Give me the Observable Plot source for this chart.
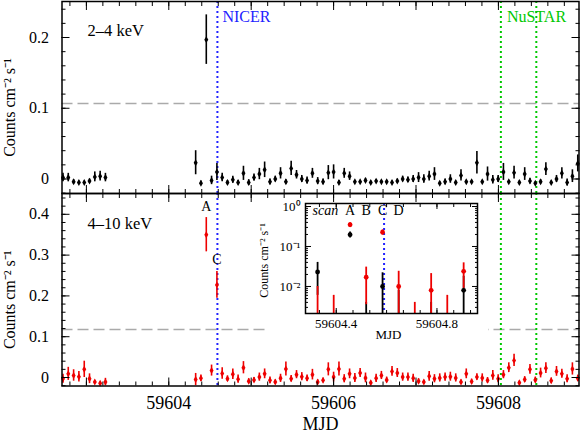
<!DOCTYPE html>
<html><head><meta charset="utf-8">
<script src="https://cdn.jsdelivr.net/npm/d3@7"></script>
<script src="https://cdn.jsdelivr.net/npm/@observablehq/plot@0.6"></script>
<style>
body{margin:0;background:#fff}
#wrap{position:relative;width:581px;height:440px;overflow:hidden;background:#fff}
#wrap svg{position:absolute}
#mask{position:absolute;left:265px;top:202px;width:223px;height:143px;background:#fff}
</style></head><body><div id="wrap"><div id="mask"></div></div>
<script>
// Scan times (MJD)
const times = [59602.716, 59602.780, 59602.845, 59602.909, 59602.974, 59603.038, 59603.102, 59603.167, 59603.231,
59604.326, 59604.390, 59604.455, 59604.519, 59604.584, 59604.648, 59604.712, 59604.777, 59604.841, 59604.906, 59604.970,
59605.034, 59605.099, 59605.163, 59605.228, 59605.292, 59605.356, 59605.421, 59605.485, 59605.550, 59605.614, 59605.678, 59605.743, 59605.807, 59605.872, 59605.936,
59606.000, 59606.065, 59606.129, 59606.194, 59606.258, 59606.322, 59606.387, 59606.451, 59606.516, 59606.580, 59606.644, 59606.709, 59606.773, 59606.838, 59606.902, 59606.966,
59607.031, 59607.095, 59607.160, 59607.224, 59607.288, 59607.353, 59607.417, 59607.482, 59607.546, 59607.610, 59607.675, 59607.739, 59607.804, 59607.868, 59607.932, 59607.997,
59608.061, 59608.126, 59608.190, 59608.254, 59608.319, 59608.383, 59608.448, 59608.512, 59608.576, 59608.641, 59608.705, 59608.770, 59608.834, 59608.898, 59608.963];

// 2-4 keV (black)
const soft = [0.002, 0.002, -0.004, -0.005, -0.005, -0.003, 0.003, 0.004, 0.002,
0.023, -0.006, 0.197, -0.002, 0.010, 0.002, -0.005, -0.001, -0.005, 0.008, -0.005,
0.002, 0.007, 0.013, -0.004, 0.000, 0.008, -0.004, 0.015, 0.006, 0.000, -0.002, 0.008, -0.003, -0.004, 0.009,
0.010, -0.005, 0.008, 0.004, -0.004, -0.004, -0.002, -0.005, -0.003, -0.004, -0.004, -0.005, -0.003, 0.000, -0.001, 0.000,
0.002, 0.000, 0.004, 0.007, -0.006, -0.004, 0.000, -0.005, 0.005, -0.004, -0.004, 0.023, -0.004, 0.007, -0.001, 0.000,
0.010, -0.004, 0.009, -0.005, 0.007, -0.003, -0.006, -0.004, 0.014, -0.005, 0.000, 0.008, -0.005, 0.004, 0.022];
const softErr = [0.006, 0.006, 0.003, 0.002, 0.002, 0.003, 0.007, 0.007, 0.006,
0.017, 0.003, 0.035, 0.006, 0.012, 0.006, 0.003, 0.005, 0.003, 0.010, 0.004,
0.005, 0.008, 0.011, 0.004, 0.004, 0.008, 0.003, 0.010, 0.006, 0.005, 0.005, 0.007, 0.005, 0.004, 0.010,
0.010, 0.003, 0.007, 0.006, 0.002, 0.002, 0.003, 0.002, 0.002, 0.002, 0.002, 0.002, 0.003, 0.004, 0.004, 0.005,
0.007, 0.006, 0.007, 0.009, 0.002, 0.004, 0.006, 0.002, 0.008, 0.002, 0.002, 0.016, 0.002, 0.010, 0.006, 0.005,
0.012, 0.002, 0.009, 0.002, 0.009, 0.004, 0.002, 0.003, 0.009, 0.002, 0.005, 0.008, 0.005, 0.009, 0.012];

// 4-10 keV (red)
const hard = [-0.003, 0.009, 0.005, 0.002, 0.020, -0.003, -0.011, -0.014, -0.011,
-0.005, -0.002, 0.350, 0.017, 0.227, 0.010, -0.003, 0.008, -0.004, 0.024, -0.009,
-0.006, 0.001, 0.009, -0.007, -0.011, -0.002, 0.021, -0.003, 0.007, 0.002, -0.002, 0.007, -0.011, -0.007, 0.020,
0.001, 0.021, -0.003, 0.009, -0.001, 0.011, -0.001, -0.013, -0.002, 0.005, -0.006, 0.015, 0.011, 0.001, 0.001, -0.002,
-0.009, -0.011, 0.003, -0.003, -0.001, 0.001, 0.002, -0.001, -0.011, 0.009, -0.010, 0.001, -0.001, -0.007, 0.005, -0.003,
0.007, 0.024, 0.042, -0.013, -0.005, 0.020, -0.006, 0.011, 0.023, -0.008, 0.015, 0.009, -0.003, 0.021, -0.002];
const hardErr = [0.011, 0.016, 0.014, 0.013, 0.020, 0.012, 0.004, 0.003, 0.009,
0.015, 0.008, 0.042, 0.0135, 0.033, 0.014, 0.007, 0.013, 0.010, 0.015, 0.006,
0.006, 0.010, 0.012, 0.008, 0.005, 0.010, 0.017, 0.008, 0.010, 0.010, 0.008, 0.013, 0.005, 0.006, 0.016,
0.012, 0.017, 0.010, 0.012, 0.011, 0.011, 0.012, 0.004, 0.010, 0.010, 0.007, 0.012, 0.011, 0.010, 0.010, 0.010,
0.006, 0.004, 0.012, 0.010, 0.010, 0.010, 0.011, 0.010, 0.005, 0.012, 0.006, 0.008, 0.010, 0.007, 0.012, 0.010,
0.010, 0.012, 0.015, 0.004, 0.007, 0.012, 0.007, 0.012, 0.013, 0.007, 0.012, 0.011, 0.010, 0.015, 0.008];

const nicerTime = [59604.59];
const nustarTimes = [59608.03, 59608.46];
const softThreshold = [0.1067];
const hardThreshold = [0.1176];
const scanLabels = ["A", "B", "C", "D"];
const scanTimes = [59604.455, 59604.519, 59604.584, 59604.648];
const peakLabels = ["A", "C"];
const peakTimes = [59604.455, 59604.584];
const bandLabels = ["2–4 keV", "4–10 keV"];
const yTitle = "Counts cm⁻² s⁻¹";
const xTitle = "MJD";
const xMajor = [59603, 59604, 59605, 59606, 59607, 59608];
const xLabeled = [59604, 59606, 59608];
const softTicks = [0, 0.1, 0.2];
const hardTicks = [0, 0.1, 0.2, 0.3, 0.4];
const insetXLabeled = [59604.4, 59604.8];
const logTicks = [0.01, 0.1, 1];
const logLabels = ["10⁻²", "10⁻¹", "10⁰"];

const font = "'Liberation Serif', 'Times New Roman', serif";
const BLUE = "#2222ff", GREEN = "#00c800", RED = "#ee0000";
const xDomain = [59602.704, 59608.978];
const xMinor = d3.range(59602.8, 59609.0, 0.2).map(d => +d.toFixed(1));
const rows = (v, e) => times.map((t, i) => ({t, v: v[i], e: e[i]}));
const softRows = rows(soft, softErr), hardRows = rows(hard, hardErr);

function axes(yMajor, yMinor, labelX) {
  const blank = () => "";
  return [
    Plot.axisX(xMajor, {anchor: "bottom", tickSize: -8, tickPadding: 18, fontSize: 18, label: null,
      tickFormat: labelX ? (d => xLabeled.includes(d) ? String(d) : "") : blank}),
    Plot.axisX(xMinor, {anchor: "bottom", tickSize: -4, tickFormat: blank, label: null}),
    Plot.axisX(xMajor, {anchor: "top", tickSize: -8, tickFormat: blank, label: null}),
    Plot.axisX(xMinor, {anchor: "top", tickSize: -4, tickFormat: blank, label: null}),
    Plot.axisY(yMajor, {anchor: "left", tickSize: -8, tickPadding: 21, fontSize: 16, label: null, tickFormat: d => String(d)}),
    Plot.axisY(yMinor, {anchor: "left", tickSize: -4, tickFormat: blank, label: null}),
    Plot.axisY(yMajor, {anchor: "right", tickSize: -8, tickFormat: blank, label: null}),
    Plot.axisY(yMinor, {anchor: "right", tickSize: -4, tickFormat: blank, label: null})
  ];
}
function vlines() {
  return [
    Plot.ruleX(nicerTime, {x: d => d, stroke: BLUE, strokeWidth: 2, strokeDasharray: "2,3"}),
    Plot.ruleX(nustarTimes, {x: d => d, stroke: GREEN, strokeWidth: 2, strokeDasharray: "2,3"})
  ];
}
const styleObj = {fontFamily: font, fontSize: "16px", color: "black", background: "transparent", overflow: "visible"};

const topPlot = Plot.plot({
  width: 581, height: 193, marginTop: 1, marginBottom: 0, marginLeft: 61.5, marginRight: 2.5,
  x: {domain: xDomain}, y: {domain: [-0.0205, 0.2509]},
  style: styleObj,
  marks: [
    Plot.ruleY(softThreshold, {y: d => d, stroke: "#aaaaaa", strokeWidth: 1.5, strokeDasharray: "11,5"}),
    ...vlines(),
    Plot.ruleX(softRows, {x: "t", y1: d => d.v - d.e, y2: d => d.v + d.e, stroke: "black", strokeWidth: 1.6}),
    Plot.dot(softRows, {x: "t", y: "v", r: 2.1, fill: "black", symbol: "diamond"}),
    Plot.text(nicerTime, {x: d => d, text: () => "NICER", frameAnchor: "top", lineAnchor: "middle", dy: 15, dx: 5, textAnchor: "start", fill: BLUE, fontSize: 16}),
    Plot.text([nustarTimes[0]], {x: d => d, text: () => "NuSTAR", frameAnchor: "top", lineAnchor: "middle", dy: 15, dx: 6, textAnchor: "start", fill: GREEN, fontSize: 16}),
    Plot.text([bandLabels[0]], {text: d => d, frameAnchor: "top-left", lineAnchor: "middle", dx: 25.5, dy: 29, textAnchor: "start", fontSize: 16.5}),
    Plot.text([yTitle], {text: d => d, frameAnchor: "left", lineAnchor: "middle", textAnchor: "middle", rotate: -90, dx: -52.5, dy: 10, fontSize: 16}),
    ...axes(softTicks, d3.range(-0.02, 0.26, 0.02).map(d => +d.toFixed(2)), false),
    Plot.frame({stroke: "black", strokeWidth: 1.5})
  ]
});
topPlot.style.left = "0px"; topPlot.style.top = "0px";

const peakRows = peakTimes.map((t, i) => {
  const r = hardRows.find(d => Math.abs(d.t - t) < 0.01);
  return {t, top: r.v + r.e, label: peakLabels[i]};
});
const bottomPlot = Plot.plot({
  width: 581, height: 248, marginTop: 1, marginBottom: 54.5, marginLeft: 61.5, marginRight: 2.5,
  x: {domain: xDomain}, y: {domain: [-0.0208, 0.451]},
  style: styleObj,
  marks: [
    Plot.ruleY(hardThreshold, {y: d => d, stroke: "#aaaaaa", strokeWidth: 1.5, strokeDasharray: "11,5"}),
    ...vlines(),
    Plot.ruleX(hardRows, {x: "t", y1: d => d.v - d.e, y2: d => d.v + d.e, stroke: RED, strokeWidth: 1.6}),
    Plot.dot(hardRows, {x: "t", y: "v", r: 2.1, fill: RED, symbol: "diamond"}),
    Plot.text(peakRows, {x: "t", y: "top", text: "label", lineAnchor: "middle", dy: -11.5, fontSize: 14}),
    Plot.text([bandLabels[1]], {text: d => d, frameAnchor: "top-left", lineAnchor: "middle", dx: 25.5, dy: 30, textAnchor: "start", fontSize: 16.5}),
    Plot.text([yTitle], {text: d => d, frameAnchor: "left", lineAnchor: "middle", textAnchor: "middle", rotate: -90, dx: -52.5, dy: 10, fontSize: 16}),
    Plot.text([xTitle], {text: d => d, frameAnchor: "bottom", lineAnchor: "middle", dy: 38, fontSize: 18}),
    ...axes(hardTicks, d3.range(-0.02, 0.46, 0.02).map(d => +d.toFixed(2)), true),
    Plot.frame({stroke: "black", strokeWidth: 1.5})
  ]
});
bottomPlot.style.left = "0px"; bottomPlot.style.top = "192px";

// Inset (log scale)
const insetDomain = [59604.278, 59604.961];
const lowEdge = 0.00211;
const inDom = d => d.t >= insetDomain[0] && d.t <= insetDomain[1];
const insetSoft = softRows.filter(inDom), insetHard = hardRows.filter(inDom);
const logMinor = [0.001, 0.01, 0.1].flatMap(p => d3.range(2, 10).map(m => m * p)).filter(d => d > lowEdge && d < 1.189);
const insetXMinor = d3.range(-2, 10).map(i => 59604.4 + i * 0.4 / 6).filter(d => d > insetDomain[0] && d < insetDomain[1]);
const blank = () => "";
const insetPlot = Plot.plot({
  width: 238, height: 145, marginLeft: 55, marginRight: 11, marginTop: 3, marginBottom: 32,
  x: {domain: insetDomain}, y: {type: "log", domain: [lowEdge, 1.189]},
  style: styleObj,
  marks: [
    Plot.ruleX(nicerTime, {x: d => d, stroke: BLUE, strokeWidth: 2, strokeDasharray: "2,3"}),
    Plot.ruleX(insetSoft.filter(d => d.v + d.e > lowEdge), {x: "t", y1: d => Math.max(d.v - d.e, lowEdge), y2: d => d.v + d.e, stroke: "black", strokeWidth: 1.8}),
    Plot.dot(insetSoft.filter(d => d.v > lowEdge), {x: "t", y: "v", r: 2.4, fill: "black"}),
    Plot.ruleX(insetHard.filter(d => d.v + d.e > lowEdge), {x: "t", y1: d => Math.max(d.v - d.e, lowEdge), y2: d => d.v + d.e, stroke: RED, strokeWidth: 1.8}),
    Plot.dot(insetHard.filter(d => d.v > lowEdge), {x: "t", y: "v", r: 2.4, fill: RED}),
    Plot.text(["scan"], {text: d => d, frameAnchor: "top-left", lineAnchor: "middle", dx: 7, dy: 7, textAnchor: "start", fontStyle: "italic", fontSize: 14}),
    Plot.text(scanTimes, {x: d => d, text: (d, i) => scanLabels[i], frameAnchor: "top", lineAnchor: "middle", dy: 7, fontSize: 14}),
    Plot.text([xTitle], {text: d => d, frameAnchor: "bottom", lineAnchor: "middle", dx: -3, dy: 21, fontSize: 13}),
    Plot.text([yTitle], {text: d => d, frameAnchor: "left", lineAnchor: "middle", textAnchor: "middle", rotate: -90, dx: -41, dy: 2, fontSize: 12}),
    Plot.axisX(insetXLabeled, {anchor: "bottom", tickSize: -5, tickPadding: 10, fontSize: 13, label: null, tickFormat: d => d.toFixed(1)}),
    Plot.axisX(insetXMinor, {anchor: "bottom", tickSize: -3, tickFormat: blank, label: null}),
    Plot.axisX(insetXLabeled, {anchor: "top", tickSize: -5, tickFormat: blank, label: null}),
    Plot.axisX(insetXMinor, {anchor: "top", tickSize: -3, tickFormat: blank, label: null}),
    Plot.axisY(logTicks, {anchor: "left", tickSize: -6, tickPadding: 11, fontSize: 13, label: null, tickFormat: d => logLabels[logTicks.indexOf(d)]}),
    Plot.axisY(logMinor, {anchor: "left", tickSize: -3, tickFormat: blank, label: null}),
    Plot.axisY(logTicks, {anchor: "right", tickSize: -6, tickFormat: blank, label: null}),
    Plot.axisY(logMinor, {anchor: "right", tickSize: -3, tickFormat: blank, label: null}),
    Plot.frame({stroke: "black", strokeWidth: 1.5})
  ]
});
insetPlot.style.left = "250px"; insetPlot.style.top = "200px";

const wrap = document.getElementById("wrap");
wrap.insertBefore(topPlot, wrap.firstChild);
wrap.insertBefore(bottomPlot, document.getElementById("mask"));
wrap.appendChild(insetPlot);
</script>
</body></html>
